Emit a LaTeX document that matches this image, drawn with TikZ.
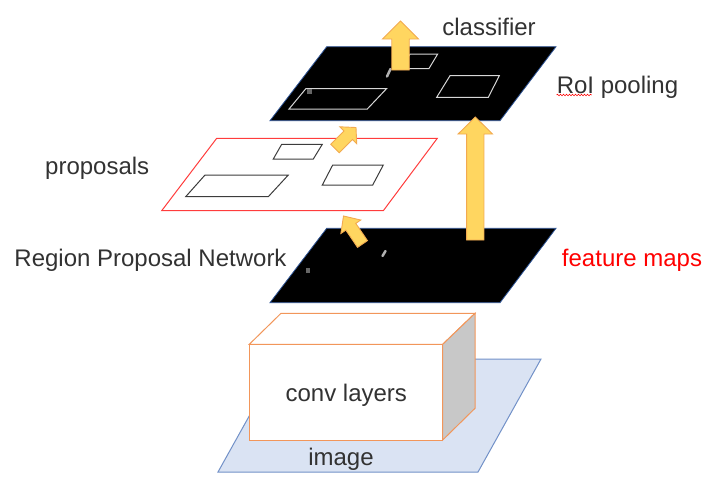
\documentclass[tikz,border=0pt]{standalone}
\usepackage{fontspec}
\setmainfont{Liberation Sans}
\usetikzlibrary{decorations.pathmorphing}
\definecolor{arrowfill}{RGB}{255,214,96}
\definecolor{arrowline}{RGB}{242,170,80}
\definecolor{planeedge}{RGB}{47,85,151}
\definecolor{boxorange}{RGB}{242,150,90}
\definecolor{imgfill}{RGB}{218,227,243}
\definecolor{imgedge}{RGB}{114,145,200}
\definecolor{txtgrey}{RGB}{50,50,50}
\definecolor{propred}{RGB}{255,60,60}
\definecolor{sidegrey}{RGB}{200,200,200}
\definecolor{roiline}{RGB}{215,215,215}
\definecolor{propbox}{RGB}{60,60,60}
\newcommand\yarrow[7]{%
  \pgfmathsetmacro\yang{atan2(-(#4-#2),#3-#1)}%
  \pgfmathsetmacro\ylen{veclen(#3-#1,#4-#2)}%
  \begin{scope}[shift={(#1,#2)},rotate=\yang]
    \filldraw[blockarrow] (0,-#5/2) -- (\ylen-#7,-#5/2) -- (\ylen-#7,-#6/2) -- (\ylen,0)
      -- (\ylen-#7,#6/2) -- (\ylen-#7,#5/2) -- (0,#5/2) -- cycle;
  \end{scope}}
\tikzset{
  blockarrow/.style={fill=arrowfill,draw=arrowline,line width=0.9pt,line join=miter},
  blackplane/.style={fill=black,draw=planeedge,line width=0.8pt},
  roibox/.style={draw=roiline,line width=1pt},
  propboxst/.style={draw=propbox,line width=1pt},
  lbl/.style={font=\fontsize{24}{28}\selectfont,text=txtgrey,anchor=base,inner sep=0pt},
}
\begin{document}
\begin{tikzpicture}[x=1pt,y=-1pt]
\useasboundingbox (0,0) rectangle (720,488);
% image plane
\filldraw[fill=imgfill,draw=imgedge,line width=1pt] (281,359) -- (541,359) -- (478,472) -- (218,472) -- cycle;
% conv box
\filldraw[fill=white,draw=boxorange,line width=1pt] (249.3,344.3) -- (281,313.3) -- (475,313.3) -- (442.7,344.3) -- cycle;
\filldraw[fill=sidegrey,draw=boxorange,line width=1pt] (442.7,344.3) -- (475,313.3) -- (475,408.3) -- (442.7,440) -- cycle;
\filldraw[fill=white,draw=boxorange,line width=1pt] (249.3,344.3) rectangle (442.7,440);
% feature maps plane
\filldraw[blackplane] (326.7,228.3) -- (556,228.3) -- (500,302.7) -- (270,302.7) -- cycle;
\fill[black!60] (305.5,268) rectangle (310,272.5);
\draw[black!30,line width=2.5pt,line cap=round] (382.5,256) -- (385.5,251);
% proposals plane
\draw[propred,line width=1pt] (216.7,138.3) -- (437.3,138.3) -- (383.3,210.7) -- (161.7,210.7) -- cycle;
\draw[propboxst] (281.7,144.3) -- (322.3,144.3) -- (313.3,159) -- (273.3,159) -- cycle;
\draw[propboxst] (205,175) -- (288.3,175) -- (268.3,196.7) -- (185.7,196.7) -- cycle;
\draw[propboxst] (332.7,165) -- (383.3,165) -- (372.7,185) -- (322.3,185) -- cycle;
% RoI pooling plane
\filldraw[blackplane] (326.7,46.7) -- (556,46.7) -- (500,120.7) -- (270,120.7) -- cycle;
\draw[roibox] (306,88.5) -- (386.7,88.5) -- (367.3,109) -- (289,109) -- cycle;
\draw[roibox] (410,54) -- (437.7,54) -- (429,68.5) -- (401,68.5) -- cycle;
\draw[roibox] (450,75.7) -- (499.3,75.7) -- (488.3,97.3) -- (436.7,97.3) -- cycle;
\fill[black!60] (306.5,88.5) rectangle (312,94);
\draw[black!30,line width=2.5pt,line cap=round] (387,76.5) -- (390.5,69);
% arrows
\yarrow{475.3}{240}{475.3}{117}{17.3}{34.4}{17}
\yarrow{400.5}{70}{400.5}{21}{17.5}{36}{18}
\yarrow{335}{148.5}{356}{127.5}{12}{24}{11}
\yarrow{362.5}{244}{343.5}{216}{12}{24}{13}
% labels
\node[lbl] (cls) at (489,35.5) {classifier};
\node[lbl] (roi) at (617.5,93) {RoI pooling};
\node[lbl] (prop) at (97.2,174.3) {proposals};
\node[lbl] (rpn) at (150.5,266) {Region Proposal Network};
\node[lbl,text=red] (fm) at (632,266.7) {feature maps};
\node[lbl] (conv) at (346.3,401.7) {conv layers};
\node[lbl] (img) at (341,465) {image};
\draw[red,line width=0.6pt,decorate,decoration={snake,amplitude=0.8pt,segment length=3pt}] ([yshift=-2pt]roi.base west) -- ++(35,0);
\end{tikzpicture}
\end{document}
